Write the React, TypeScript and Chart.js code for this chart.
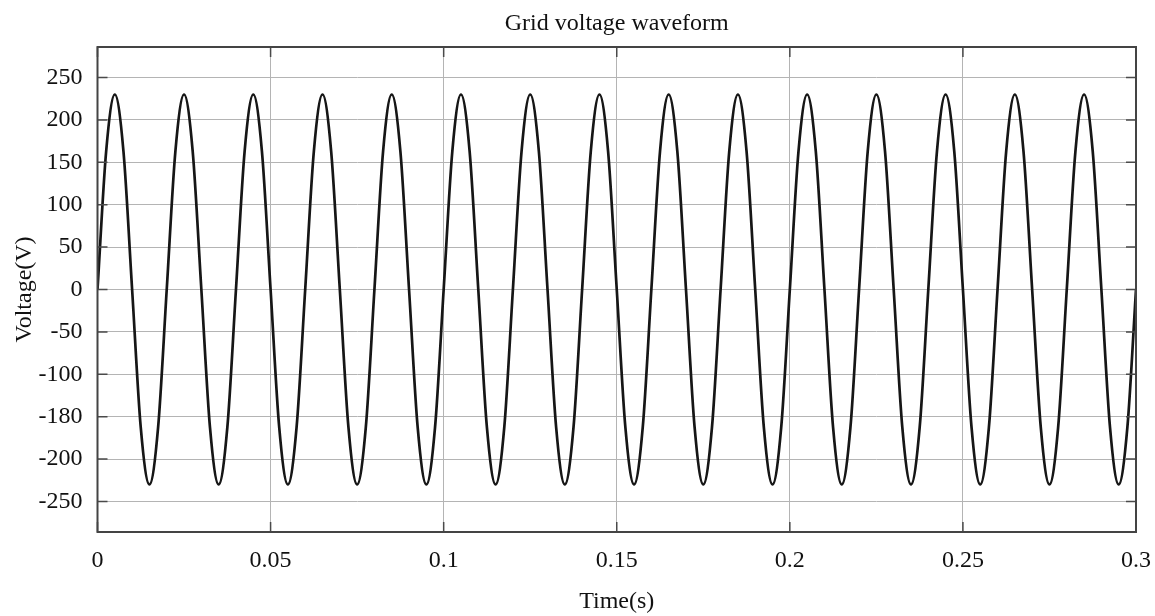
import React, { useEffect, useRef } from "react";
import { Chart, registerables } from "chart.js";

Chart.register(...registerables);

const chartTitle = "Grid voltage waveform";
const xTitle = "Time(s)";
const yTitle = "Voltage(V)";

// Sampling instants (s), one row per 20 ms cycle
const timeSec = [
  0, 0.0025, 0.005, 0.0075, 0.01, 0.0125, 0.015, 0.0175,
  0.02, 0.0225, 0.025, 0.0275, 0.03, 0.0325, 0.035, 0.0375,
  0.04, 0.0425, 0.045, 0.0475, 0.05, 0.0525, 0.055, 0.0575,
  0.06, 0.0625, 0.065, 0.0675, 0.07, 0.0725, 0.075, 0.0775,
  0.08, 0.0825, 0.085, 0.0875, 0.09, 0.0925, 0.095, 0.0975,
  0.1, 0.1025, 0.105, 0.1075, 0.11, 0.1125, 0.115, 0.1175,
  0.12, 0.1225, 0.125, 0.1275, 0.13, 0.1325, 0.135, 0.1375,
  0.14, 0.1425, 0.145, 0.1475, 0.15, 0.1525, 0.155, 0.1575,
  0.16, 0.1625, 0.165, 0.1675, 0.17, 0.1725, 0.175, 0.1775,
  0.18, 0.1825, 0.185, 0.1875, 0.19, 0.1925, 0.195, 0.1975,
  0.2, 0.2025, 0.205, 0.2075, 0.21, 0.2125, 0.215, 0.2175,
  0.22, 0.2225, 0.225, 0.2275, 0.23, 0.2325, 0.235, 0.2375,
  0.24, 0.2425, 0.245, 0.2475, 0.25, 0.2525, 0.255, 0.2575,
  0.26, 0.2625, 0.265, 0.2675, 0.27, 0.2725, 0.275, 0.2775,
  0.28, 0.2825, 0.285, 0.2875, 0.29, 0.2925, 0.295, 0.2975,
  0.3,
];

// Grid voltage read at those instants (V)
const voltage = [
  0, 163, 230, 163, 0, -163, -230, -163,
  0, 163, 230, 163, 0, -163, -230, -163,
  0, 163, 230, 163, 0, -163, -230, -163,
  0, 163, 230, 163, 0, -163, -230, -163,
  0, 163, 230, 163, 0, -163, -230, -163,
  0, 163, 230, 163, 0, -163, -230, -163,
  0, 163, 230, 163, 0, -163, -230, -163,
  0, 163, 230, 163, 0, -163, -230, -163,
  0, 163, 230, 163, 0, -163, -230, -163,
  0, 163, 230, 163, 0, -163, -230, -163,
  0, 163, 230, 163, 0, -163, -230, -163,
  0, 163, 230, 163, 0, -163, -230, -163,
  0, 163, 230, 163, 0, -163, -230, -163,
  0, 163, 230, 163, 0, -163, -230, -163,
  0, 163, 230, 163, 0, -163, -230, -163,
  0,
];

const xTickValues = [0, 0.05, 0.1, 0.15, 0.2, 0.25, 0.3];
const xTickLabels = ["0", "0.05", "0.1", "0.15", "0.2", "0.25", "0.3"];
const yTickValues = [250, 200, 150, 100, 50, 0, -50, -100, -150, -200, -250];
const yTickLabels = ["250", "200", "150", "100", "50", "0", "-50", "-100", "-180", "-200", "-250"];

const FONT = "'Liberation Serif', 'Times New Roman', serif";

const framePlugin = {
  id: "frameTicks",
  afterDatasetsDraw(chart: any) {
    const { ctx, chartArea } = chart;
    const { left, right, top, bottom } = chartArea;
    const xs = chart.scales.x;
    const ys = chart.scales.y;
    ctx.save();
    ctx.strokeStyle = "#4a4a4a";
    ctx.lineWidth = 1.5;
    const len = 10;
    ctx.beginPath();
    for (const v of yTickValues) {
      const y = ys.getPixelForValue(v);
      ctx.moveTo(left, y);
      ctx.lineTo(left + len, y);
      ctx.moveTo(right, y);
      ctx.lineTo(right - len, y);
    }
    for (const v of xTickValues) {
      const x = xs.getPixelForValue(v);
      ctx.moveTo(x, top);
      ctx.lineTo(x, top + len);
      ctx.moveTo(x, bottom);
      ctx.lineTo(x, bottom - len);
    }
    ctx.stroke();
    ctx.lineWidth = 2;
    ctx.strokeStyle = "#444";
    ctx.strokeRect(left, top, right - left, bottom - top);

    // Title centred over the plot area
    ctx.fillStyle = "#111";
    ctx.font = `24px ${FONT}`;
    ctx.textAlign = "center";
    ctx.textBaseline = "alphabetic";
    ctx.fillText(chartTitle, (left + right) / 2, 30);
    ctx.restore();
  },
};

export default function App() {
  const ref = useRef<HTMLCanvasElement | null>(null);

  useEffect(() => {
    if (!ref.current) return;
    const points = timeSec.map((t, i) => ({ x: t, y: voltage[i] }));
    const chart = new Chart(ref.current, {
      type: "line",
      data: {
        datasets: [
          {
            data: points,
            borderColor: "#161616",
            borderWidth: 2.7,
            pointRadius: 0,
            cubicInterpolationMode: "monotone",
            fill: false,
          },
        ],
      },
      options: {
        animation: false,
        responsive: true,
        maintainAspectRatio: false,
        layout: { padding: { left: 0, right: 19, top: 47, bottom: 0 } },
        plugins: {
          legend: { display: false },
          tooltip: { enabled: false },
          title: { display: false },
        },
        scales: {
          x: {
            type: "linear",
            min: 0,
            max: 0.3,
            afterBuildTicks: (s: any) => {
              s.ticks = xTickValues.map((v) => ({ value: v }));
            },
            afterFit: (s: any) => {
              s.height = 84;
              s.paddingLeft = 0;
              s.paddingRight = 0;
            },
            ticks: {
              color: "#111",
              font: { family: FONT, size: 24 },
              padding: 14.5,
              maxRotation: 0,
              autoSkip: false,
              callback: (v: any) => {
                const i = xTickValues.findIndex((t) => Math.abs(t - Number(v)) < 1e-9);
                return i >= 0 ? xTickLabels[i] : "";
              },
            },
            grid: { color: "#b4b4b4", lineWidth: 1, drawTicks: false },
            border: { display: false },
            title: {
              display: true,
              text: xTitle,
              color: "#111",
              font: { family: FONT, size: 24 },
              padding: { top: 0, bottom: 0 },
            },
          },
          y: {
            type: "linear",
            min: -286,
            max: 286,
            afterBuildTicks: (s: any) => {
              s.ticks = yTickValues.map((v) => ({ value: v }));
            },
            afterFit: (s: any) => {
              s.width = 97.5;
              s.paddingTop = 0;
              s.paddingBottom = 0;
            },
            ticks: {
              color: "#111",
              font: { family: FONT, size: 24 },
              padding: 15,
              autoSkip: false,
              callback: (v: any) => {
                const i = yTickValues.indexOf(Number(v));
                return i >= 0 ? yTickLabels[i] : "";
              },
            },
            grid: { color: "#b4b4b4", lineWidth: 1, drawTicks: false },
            border: { display: false },
            title: {
              display: true,
              text: yTitle,
              color: "#111",
              font: { family: FONT, size: 24 },
              padding: { top: 10.5, bottom: 0 },
            },
          },
        },
      },
      plugins: [framePlugin],
    });
    return () => chart.destroy();
  }, []);

  return (
    <div style={{ position: "fixed", left: 0, top: 0, width: "100vw", height: "100vh", background: "#fff" }}>
      <canvas ref={ref} />
    </div>
  );
}
